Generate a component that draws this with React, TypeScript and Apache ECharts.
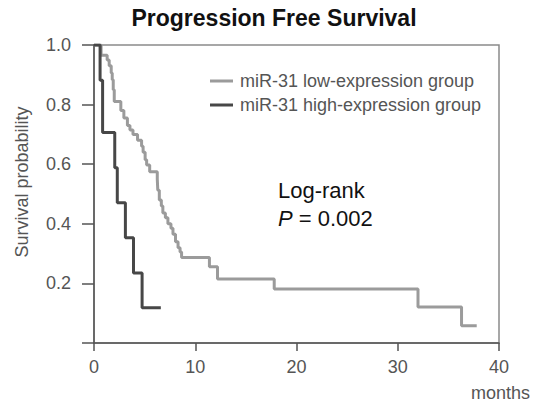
import React, { useEffect, useRef } from "react";
import * as echarts from "echarts";

// Kaplan-Meier step data: at time t the survival drops to the given value
const lowTimes = [0, 0.7, 1.3, 1.5, 1.7, 1.8, 1.9, 2.0, 2.65, 2.95, 3.3, 3.55, 3.85, 4.3, 4.7, 4.85, 5.05, 5.2, 5.5, 6.25, 6.3, 6.45, 6.65, 6.8, 7.05, 7.3, 7.6, 7.8, 8.05, 8.3, 8.5, 8.65, 11.4, 12.2, 17.8, 32.0, 36.3, 37.8];
const lowSurv = [1.0, 0.966, 0.95, 0.93, 0.906, 0.883, 0.85, 0.81, 0.78, 0.755, 0.73, 0.715, 0.7, 0.68, 0.66, 0.64, 0.615, 0.597, 0.575, 0.55, 0.513, 0.48, 0.46, 0.436, 0.42, 0.4, 0.385, 0.365, 0.34, 0.32, 0.305, 0.287, 0.256, 0.215, 0.181, 0.121, 0.058, 0.058];

const highTimes = [0, 0.6, 0.85, 2.05, 2.3, 3.1, 3.9, 4.75, 6.6];
const highSurv = [1.0, 0.882, 0.706, 0.588, 0.471, 0.353, 0.235, 0.118, 0.118];

const xTicks = [0, 10, 20, 30, 40];
const yTicks = [0, 0.2, 0.4, 0.6, 0.8, 1.0];

const seriesNames = ["miR-31 low-expression group", "miR-31 high-expression group"];
const titleText = "Progression Free Survival";

const FONT = "Liberation Sans, Arial, Helvetica, sans-serif";

export default function App() {
  const ref = useRef<HTMLDivElement>(null);
  useEffect(() => {
    if (!ref.current) return;
    const chart = echarts.init(ref.current, undefined, { renderer: "svg" });
    const low = lowTimes.map((t, i) => [t, lowSurv[i]]);
    const high = highTimes.map((t, i) => [t, highSurv[i]]);
    chart.setOption({
      animation: false,
      backgroundColor: "#ffffff",
      textStyle: { fontFamily: FONT },
      grid: {
        left: 94,
        right: 42,
        top: 45,
        bottom: 60,
        show: true,
        borderColor: "#8a8a8a",
        borderWidth: 1.5,
        backgroundColor: "transparent",
      },
      legend: {
        orient: "vertical",
        left: 205,
        top: 67,
        icon: "rect",
        itemWidth: 23,
        itemHeight: 3,
        itemGap: 6,
        data: seriesNames,
        textStyle: { fontSize: 18, color: "#555555", fontFamily: FONT, padding: [0, 0, 0, 2] },
      },
      xAxis: {
        type: "value",
        min: xTicks[0],
        max: xTicks[xTicks.length - 1],
        interval: 10,
        axisLine: { show: true, onZero: false, lineStyle: { color: "#555555", width: 1.5 } },
        axisTick: { show: true, length: 8, lineStyle: { color: "#555555", width: 1.5 } },
        axisLabel: { fontSize: 18, color: "#555555", margin: 15, fontFamily: FONT },
        splitLine: { show: false },
      },
      yAxis: {
        type: "value",
        min: yTicks[0],
        max: yTicks[yTicks.length - 1],
        interval: 0.2,
        axisLine: { show: true, onZero: false, lineStyle: { color: "#555555", width: 1.5 } },
        axisTick: { show: true, length: 12, lineStyle: { color: "#555555", width: 1.5 } },
        axisLabel: {
          fontSize: 18,
          color: "#555555",
          margin: 23,
          fontFamily: FONT,
          formatter: (v: number) => (v === 0 ? "" : v.toFixed(1)),
        },
        splitLine: { show: false },
      },
      series: [
        {
          name: seriesNames[0],
          type: "line",
          step: "end",
          symbol: "none",
          data: low,
          color: "#9b9b9b",
          lineStyle: { color: "#9b9b9b", width: 3 },
          z: 2,
        },
        {
          name: seriesNames[1],
          type: "line",
          step: "end",
          symbol: "none",
          data: high,
          color: "#474747",
          lineStyle: { color: "#474747", width: 3 },
          z: 3,
        },
      ],
      graphic: [
        {
          type: "text",
          x: 274,
          y: 18,
          style: {
            text: titleText,
            fontSize: 23,
            fontWeight: "bold",
            fontFamily: FONT,
            fill: "#111111",
            textAlign: "center",
            textVerticalAlign: "middle",
          },
        },
        {
          type: "text",
          x: 22,
          y: 182,
          rotation: Math.PI / 2,
          style: {
            text: "Survival probability",
            fontSize: 18,
            fontFamily: FONT,
            fill: "#555555",
            textAlign: "center",
            textVerticalAlign: "middle",
          },
        },
        {
          type: "text",
          x: 530,
          y: 393,
          style: {
            text: "months",
            fontSize: 18,
            fontFamily: FONT,
            fill: "#555555",
            textAlign: "right",
            textVerticalAlign: "middle",
          },
        },
        {
          type: "text",
          x: 278,
          y: 190,
          style: {
            text: "Log-rank",
            fontSize: 22,
            fontFamily: FONT,
            fill: "#111111",
            textAlign: "left",
            textVerticalAlign: "middle",
          },
        },
        {
          type: "text",
          x: 278,
          y: 218,
          style: {
            text: "{i|P} = 0.002",
            fontSize: 22,
            fontFamily: FONT,
            fill: "#111111",
            textAlign: "left",
            textVerticalAlign: "middle",
            rich: {
              i: { fontStyle: "italic", fontSize: 22, fontFamily: FONT, fill: "#111111" },
            },
          },
        },
      ],
    });
    return () => chart.dispose();
  }, []);
  return (
    <div
      ref={ref}
      style={{ position: "fixed", left: 0, top: 0, width: 541, height: 403 }}
    />
  );
}
